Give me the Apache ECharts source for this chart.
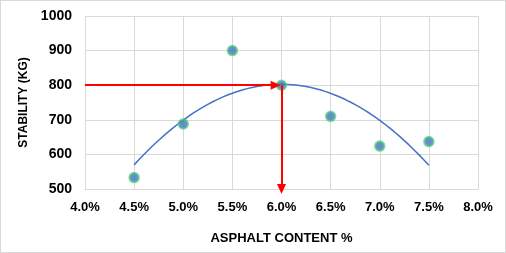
<!DOCTYPE html>
<html>
<head>
<meta charset="utf-8">
<title>Stability vs asphalt content</title>
<script src="https://cdn.jsdelivr.net/npm/echarts@6/dist/echarts.min.js"></script>
<style>
  html, body { margin: 0; padding: 0; background: #fff; }
  #frame { box-sizing: border-box; width: 506px; height: 253px; border: 1px solid #d9d9d9; }
  #main { width: 504px; height: 251px; }
</style>
</head>
<body>
<div id="frame"><div id="main"></div></div>
<script>
// data
var asphalt = [4.5, 5.0, 5.5, 6.0, 6.5, 7.0, 7.5];
var stability = [533, 688, 900, 800, 710, 624, 637];
var optimumAsphalt = 6.0;
var optimumStability = 800;

// 2nd order polynomial trend (least squares), like the spreadsheet trendline
function polyFit2(xs, ys) {
  var n = xs.length, s = [0, 0, 0, 0, 0], t = [0, 0, 0];
  for (var i = 0; i < n; i++) {
    var p = 1;
    for (var k = 0; k < 5; k++) {
      s[k] += p;
      if (k < 3) t[k] += p * ys[i];
      p *= xs[i];
    }
  }
  var m = [[s[0], s[1], s[2], t[0]], [s[1], s[2], s[3], t[1]], [s[2], s[3], s[4], t[2]]];
  for (var c = 0; c < 3; c++) {
    for (var r = c + 1; r < 3; r++) {
      var f = m[r][c] / m[c][c];
      for (var j = c; j < 4; j++) m[r][j] -= f * m[c][j];
    }
  }
  var b = [0, 0, 0];
  for (var r2 = 2; r2 >= 0; r2--) {
    var v = m[r2][3];
    for (var j2 = r2 + 1; j2 < 3; j2++) v -= m[r2][j2] * b[j2];
    b[r2] = v / m[r2][r2];
  }
  return b;
}
var coef = polyFit2(asphalt, stability);
var trend = [];
var x0 = asphalt[0], x1 = asphalt[asphalt.length - 1];
for (var i = 0; i <= 60; i++) {
  var x = x0 + (x1 - x0) * i / 60;
  trend.push([x, coef[0] + coef[1] * x + coef[2] * x * x]);
}

var points = asphalt.map(function (x, i) { return [x, stability[i]]; });
var font = 'Liberation Sans';

var myChart = echarts.init(document.getElementById('main'));
var option = {
  animation: false,
  grid: { left: 84, right: 27, top: 15, bottom: 63 },
  xAxis: {
    type: 'value',
    min: 4.0,
    max: 8.0,
    interval: 0.5,
    name: 'ASPHALT CONTENT %',
    nameLocation: 'middle',
    nameGap: 43,
    nameTextStyle: { fontFamily: font, fontWeight: 'bold', fontSize: 13, color: '#000' },
    axisLine: { lineStyle: { color: '#d9d9d9' } },
    axisTick: { show: false },
    splitLine: { show: true, lineStyle: { color: '#d9d9d9' } },
    axisLabel: {
      margin: 12,
      fontFamily: font, fontWeight: 'bold', fontSize: 13, color: '#000',
      formatter: function (v) { return v.toFixed(1) + '%'; }
    }
  },
  yAxis: {
    type: 'value',
    min: 500,
    max: 1000,
    interval: 100,
    name: 'STABILITY (KG)',
    nameLocation: 'middle',
    nameGap: 46,
    nameTextStyle: { fontFamily: font, fontWeight: 'bold', fontSize: 12, color: '#000' },
    axisLine: { show: true, lineStyle: { color: '#d9d9d9' } },
    axisTick: { show: false },
    splitLine: { show: true, lineStyle: { color: '#d9d9d9' } },
    axisLabel: {
      margin: 13, fontFamily: font, fontWeight: 'bold', fontSize: 14, color: '#000',
      formatter: function (v) { return String(v); }
    }
  },
  series: [
    {
      name: 'trend',
      type: 'line',
      data: trend,
      showSymbol: false,
      smooth: false,
      lineStyle: { color: '#4472C4', width: 1.5 },
      z: 2
    },
    {
      name: 'arrows',
      type: 'line',
      data: [],
      markLine: {
        silent: true,
        symbol: ['none', 'triangle'],
        symbolSize: [9, 10],
        label: { show: false },
        lineStyle: { color: '#ff0000', width: 2, type: 'solid' },
        data: [
          [{ coord: [4.0, optimumStability] }, { coord: [optimumAsphalt - 0.06, optimumStability] }],
          [{ coord: [optimumAsphalt, optimumStability] }, { coord: [optimumAsphalt, 500] }]
        ]
      },
      z: 3
    },
    {
      name: 'stability',
      type: 'scatter',
      data: points,
      symbolSize: 9,
      itemStyle: { color: '#4472C4', borderColor: 'rgba(70,200,120,0.85)', borderWidth: 2.5 },
      z: 4
    }
  ]
};
myChart.setOption(option);
</script>
</body>
</html>
